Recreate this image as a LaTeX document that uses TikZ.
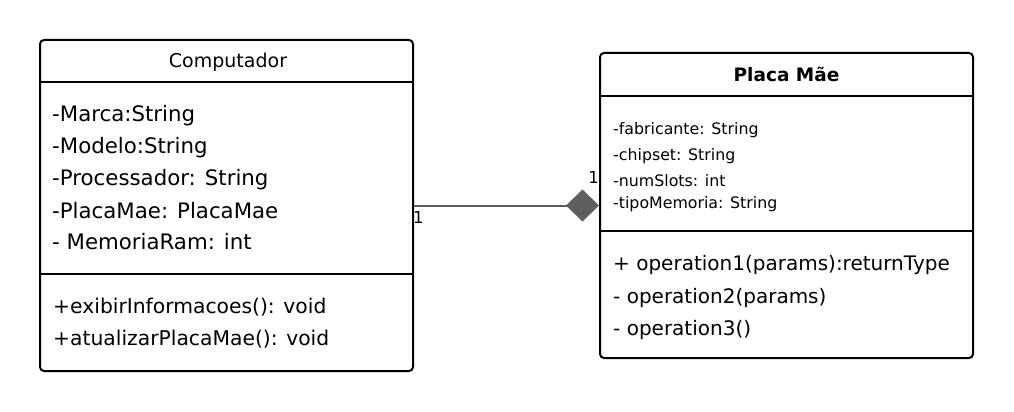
\documentclass[tikz,border=0pt]{standalone}
\usepackage{fontspec}
\setmainfont{DejaVu Sans}
\usetikzlibrary{arrows.meta}
\definecolor{conn}{HTML}{5F5F5F}
\tikzset{
  umlbox/.style={draw=black, line width=2pt, rounded corners=4pt, fill=white, inner sep=0pt},
  divider/.style={draw=black, line width=2pt},
  attr/.style={anchor=west, inner sep=0pt, text height=0.72em, text depth=0.22em, font=\fontsize{20}{24}\selectfont},
  lattr/.style={attr, font=\fontsize{21.3}{25}\selectfont},
  sattr/.style={anchor=west, inner sep=0pt, text height=0.72em, text depth=0.22em, font=\fontsize{15.8}{19}\selectfont},
  title/.style={inner sep=0pt, text height=0.72em, text depth=0.22em, font=\fontsize{19}{23}\selectfont},
  mult/.style={inner sep=0pt, font=\fontsize{16.5}{18}\selectfont},
  compo/.style={draw=conn, line width=2pt, -{Diamond[length=33pt,width=32pt,fill=conn,line width=0pt]}}
}
\begin{document}
\begin{tikzpicture}[x=1pt,y=-1pt]
\useasboundingbox[fill=white] (0,0) rectangle (1014,412);
% Computador
\node[umlbox, minimum width=373pt, minimum height=331pt] (comp) at (226.5,205.5) {};
\draw[divider] (comp.west |- 0,82) -- (comp.east |- 0,82);
\draw[divider] (comp.west |- 0,274) -- (comp.east |- 0,274);
\node[title] (comptitle) at (228,65) {Computador};
\node[lattr] (a1) at (52,119) {-Marca:String};
\node[lattr] (a2) at (52,151) {-Modelo:String};
\node[lattr] (a3) at (52,183) {-Processador: String};
\node[lattr] (a4) at (52,216) {-PlacaMae: PlacaMae};
\node[lattr] (a5) at (52,247) {- MemoriaRam: int};
\node[attr, font=\fontsize{20.3}{24}\selectfont] (m1) at (53,311) {+exibirInformacoes(): void};
\node[attr, font=\fontsize{20.3}{24}\selectfont] (m2) at (53,343) {+atualizarPlacaMae(): void};
% Placa Mae
\node[umlbox, minimum width=373pt, minimum height=305pt] (placa) at (786.5,205.5) {};
\draw[divider] (placa.west |- 0,96) -- (placa.east |- 0,96);
\draw[divider] (placa.west |- 0,231) -- (placa.east |- 0,231);
\node[title, font=\bfseries\fontsize{18.5}{22}\selectfont] (placatitle) at (786.5,79) {Placa Mãe};
\node[sattr] (b1) at (613,132) {-fabricante: String};
\node[sattr] (b2) at (613,158) {-chipset: String};
\node[sattr] (b3) at (613,184) {-numSlots: int};
\node[sattr] (b4) at (613,206) {-tipoMemoria: String};
\node[attr] (o1) at (613,268) {+ operation1(params):returnType};
\node[attr] (o2) at (613,301) {- operation2(params)};
\node[attr] (o3) at (613,333) {- operation3()};
% connector
\draw[compo] (comp.east) -- (placa.west);
\node[mult, anchor=north west] (l1) at (413,211) {1};
\node[mult, anchor=south east] (l2) at (599,184) {1};
\end{tikzpicture}
\end{document}
